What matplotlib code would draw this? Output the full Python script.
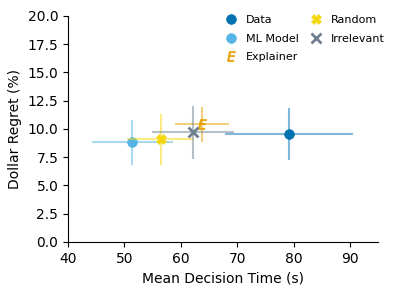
import matplotlib
matplotlib.use("Agg")
import matplotlib.pyplot as plt
import numpy as np

labels = ["Data", "ML Model", "Explainer", "Random", "Irrelevant"]
mean_time = [79.2, 51.4, 63.7, 56.4, 62.2]
time_err = [11.3, 7.2, 4.8, 5.9, 7.3]
regret = [9.55, 8.8, 10.4, 9.1, 9.7]
regret_err = [2.3, 2.0, 1.55, 2.25, 2.35]

colors = ["#0072B2", "#56B4E9", "#E69F00", "#F5D60A", "#708090"]
markers = ["o", "o", r"$\mathbf{\mathit{E}}$", "X", "x"]
sizes = [7, 7, 7, 6.5, 6.5]

fig = plt.figure(figsize=(3.98, 2.94), dpi=100)
ax = fig.add_axes([0.171, 0.177, 0.779, 0.769])

for i, lab in enumerate(labels):
    ax.errorbar(mean_time[i], regret[i], xerr=time_err[i], yerr=regret_err[i],
                fmt="none", ecolor=colors[i], alpha=0.5, elinewidth=1.5)
    ax.plot(mean_time[i], regret[i], linestyle="none", marker=markers[i], color=colors[i],
            markersize=sizes[i], markeredgewidth=2 if i == 4 else 0.5, label=lab)

ax.set_xlim(40, 95)
ax.set_ylim(0, 20)
ax.set_xticks([40, 50, 60, 70, 80, 90])
ax.set_yticks(np.arange(0, 20.1, 2.5))
ax.set_xlabel("Mean Decision Time (s)")
ax.set_ylabel("Dollar Regret (%)")
ax.spines["top"].set_visible(False)
ax.spines["right"].set_visible(False)

# two columns: Data / ML Model / Explainer, then Random / Irrelevant
ax.legend(ncol=2, frameon=False, loc="upper right", bbox_to_anchor=(1.035, 1.022),
          fontsize=8, handletextpad=0.3, columnspacing=0.6, labelspacing=0.75,
          borderaxespad=0.0)

fig.savefig("out.png", dpi=100)
